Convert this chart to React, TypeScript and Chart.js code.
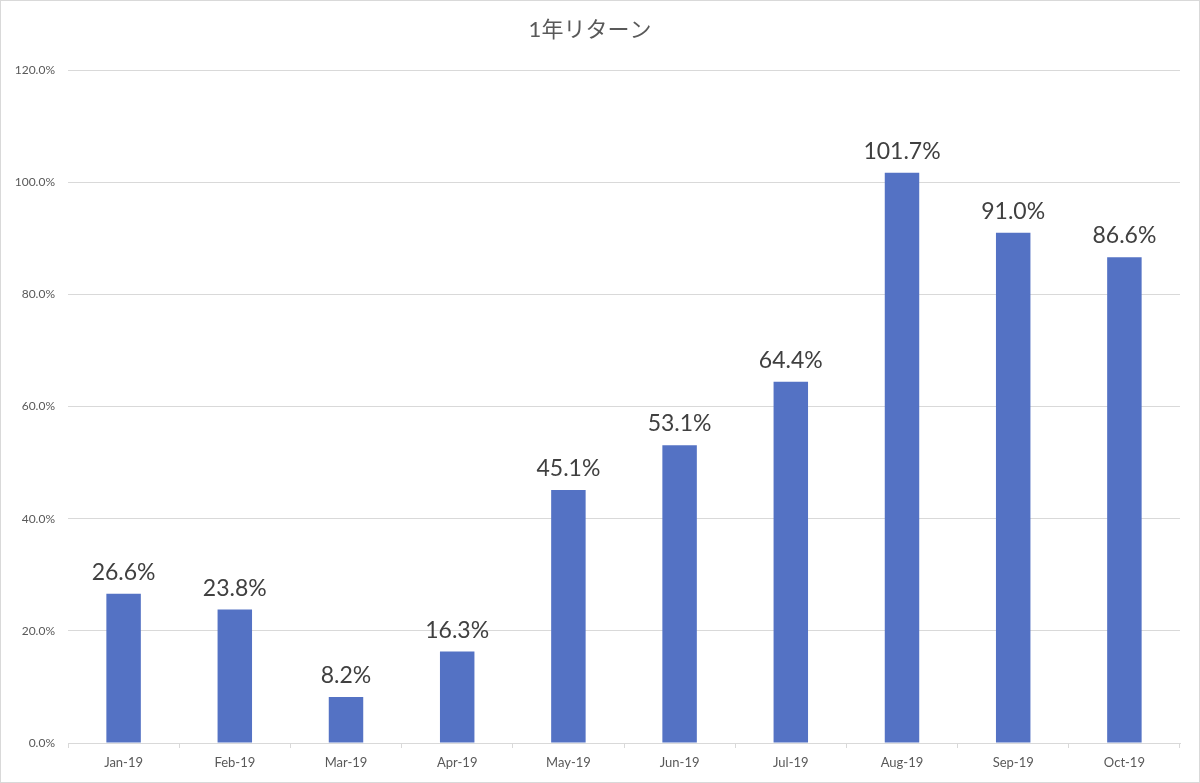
import React, { useEffect, useRef } from "react";
import { Chart, registerables } from "chart.js";

Chart.register(...registerables);

const categories = ["Jan-19", "Feb-19", "Mar-19", "Apr-19", "May-19", "Jun-19", "Jul-19", "Aug-19", "Sep-19", "Oct-19"];
const returns = [26.6, 23.8, 8.2, 16.3, 45.1, 53.1, 64.4, 101.7, 91.0, 86.6];
const chartTitle = "1年リターン";
const yMin = 0;
const yMax = 120;
const yStep = 20;

const FONT = "Lato, 'Noto Sans CJK JP', sans-serif";

const frameAndLabels = {
  id: "frameAndLabels",
  beforeDraw(chart: any) {
    const ctx = chart.ctx;
    ctx.save();
    ctx.fillStyle = "#ffffff";
    ctx.fillRect(0, 0, chart.width, chart.height);
    ctx.strokeStyle = "#d9d9d9";
    ctx.lineWidth = 1;
    ctx.strokeRect(0.5, 0.5, chart.width - 1, chart.height - 1);
    ctx.restore();
  },
  afterDatasetsDraw(chart: any) {
    const ctx = chart.ctx;
    const meta = chart.getDatasetMeta(0);
    const data = chart.data.datasets[0].data;
    ctx.save();
    ctx.font = `23px ${FONT}`;
    ctx.fillStyle = "#404040";
    ctx.textAlign = "center";
    ctx.textBaseline = "alphabetic";
    meta.data.forEach((bar: any, i: number) => {
      ctx.fillText(`${Number(data[i]).toFixed(1)}%`, bar.x, bar.y - 14);
    });
    ctx.restore();
  },
};

export default function App() {
  const ref = useRef<HTMLCanvasElement | null>(null);
  useEffect(() => {
    document.body.style.margin = "0";
    if (!ref.current) return;
    const chart = new Chart(ref.current, {
      type: "bar",
      data: {
        labels: categories,
        datasets: [
          {
            data: returns,
            backgroundColor: "#5472C4",
            categoryPercentage: 1,
            barPercentage: 0.31,
          },
        ],
      },
      options: {
        animation: false,
        responsive: false,
        devicePixelRatio: 1,
        layout: { padding: { left: 0, right: 20, top: 0, bottom: 0 } },
        plugins: {
          legend: { display: false },
          tooltip: { enabled: false },
          title: {
            display: true,
            text: chartTitle,
            color: "#595959",
            font: { family: FONT, size: 22, weight: "normal" },
            padding: { top: 17, bottom: 26.6 },
          },
        },
        scales: {
          x: {
            grid: {
              drawOnChartArea: false,
              drawTicks: true,
              tickLength: 5,
              offset: true,
              color: "#d9d9d9",
            },
            border: { color: "#d9d9d9" },
            ticks: {
              color: "#595959",
              font: { family: FONT, size: 13 },
              padding: 7,
              maxRotation: 0,
            },
            afterFit(scale: any) {
              scale.height = 40;
            },
          },
          y: {
            min: yMin,
            max: yMax,
            grid: { color: "#d9d9d9", drawTicks: false },
            border: { display: false },
            ticks: {
              stepSize: yStep,
              color: "#595959",
              font: { family: FONT, size: 12 },
              padding: 13,
              callback: (v: any) => `${Number(v).toFixed(1)}%`,
            },
            afterFit(scale: any) {
              scale.width = 68;
            },
          },
        },
      },
      plugins: [frameAndLabels],
    } as any);
    return () => chart.destroy();
  }, []);
  return (
    <div style={{ width: 1200, height: 783 }}>
      <canvas ref={ref} width={1200} height={783} style={{ display: "block" }} />
    </div>
  );
}
